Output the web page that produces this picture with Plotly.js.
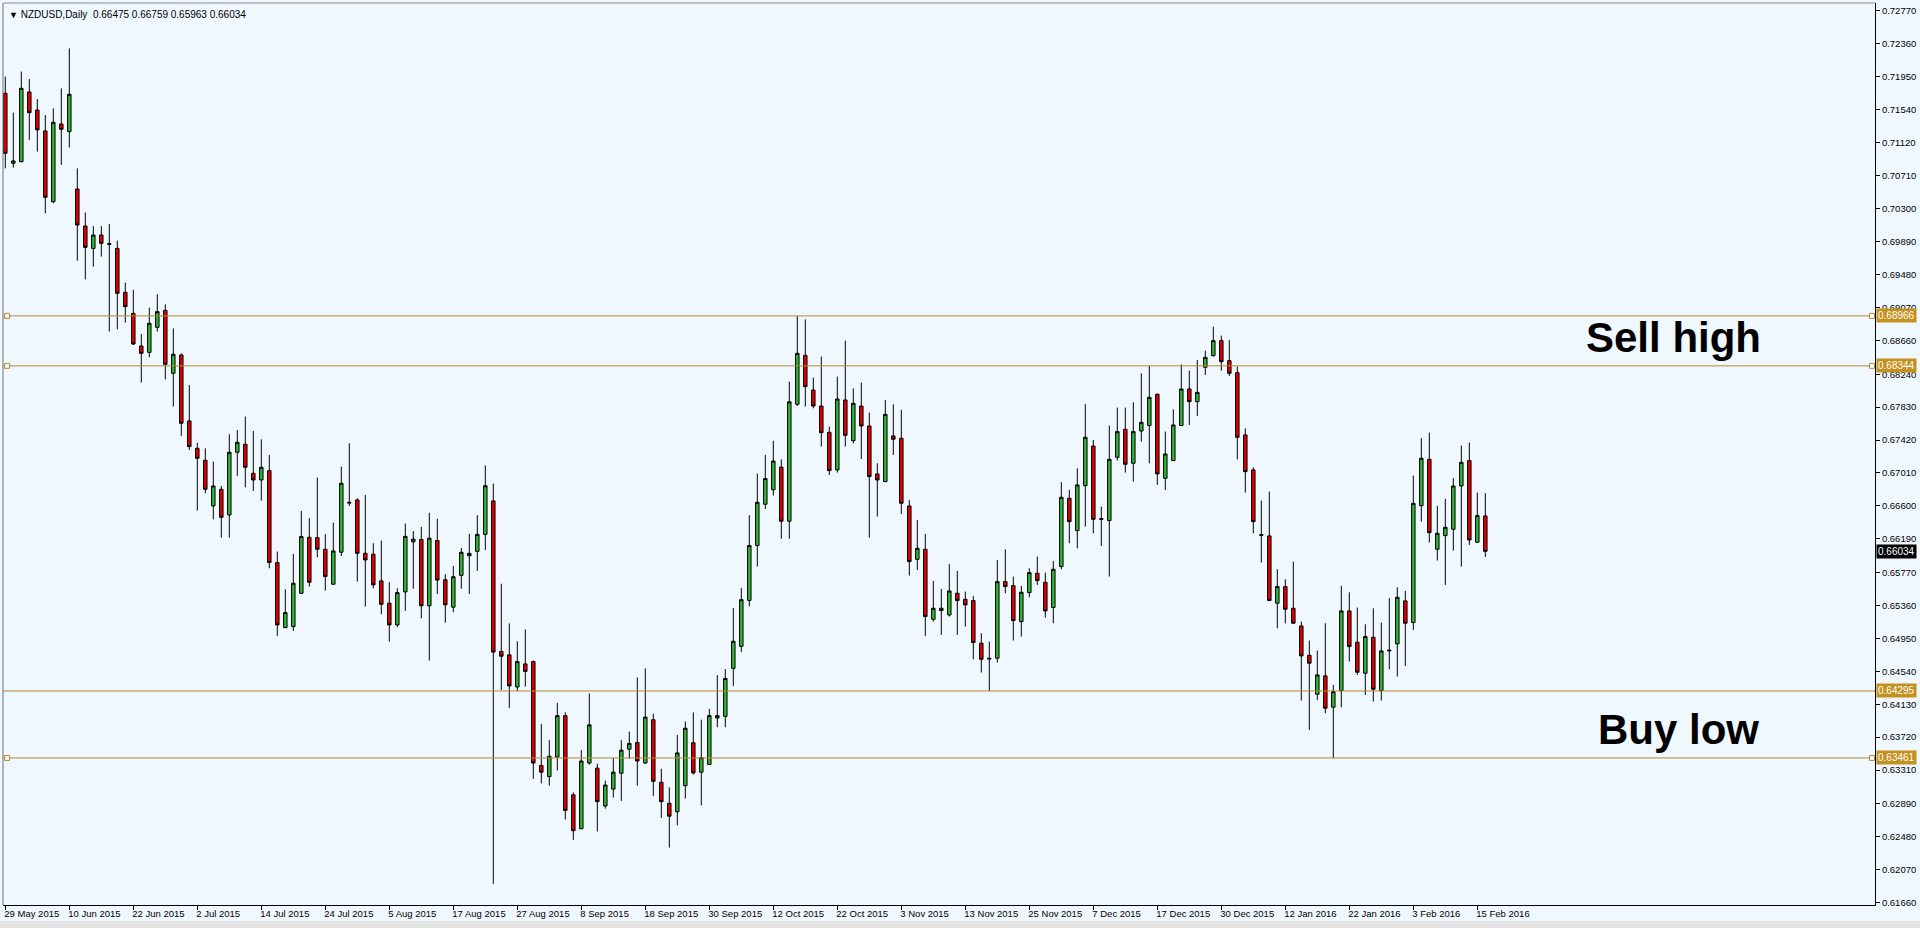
<!DOCTYPE html>
<html><head><meta charset="utf-8">
<script src="https://cdn.plot.ly/plotly-3.0.1.min.js"></script>
<style>html,body{margin:0;padding:0;background:#F0F8FF;overflow:hidden}#chart{width:1920px;height:928px}</style>
</head><body><div id="chart"></div>
<script>
const symbol = "NZDUSD,Daily";
const openP = [0.71738,0.70867,0.70887,0.71755,0.71530,0.71269,0.70388,0.71356,0.71261,0.70546,
0.70085,0.69807,0.69973,0.69865,0.69807,0.69259,0.68998,0.68591,0.68512,0.68824,
0.69035,0.68251,0.68479,0.67658,0.67317,0.67168,0.66599,0.66807,0.66487,0.67268,
0.67367,0.67006,0.66923,0.67039,0.65894,0.65084,0.65097,0.65512,0.66209,0.66205,
0.66060,0.65624,0.66023,0.66645,0.66674,0.66010,0.65998,0.65666,0.65388,0.65118,
0.65529,0.66152,0.66182,0.65356,0.66169,0.65680,0.65339,0.65735,0.65979,0.66034,
0.66245,0.66662,0.64787,0.64745,0.64345,0.64632,0.64661,0.63368,0.63229,0.63473,
0.63988,0.63002,0.62580,0.63398,0.63334,0.62863,0.63073,0.63271,0.63570,0.63654,
0.63398,0.63937,0.63158,0.62896,0.62791,0.63116,0.63650,0.63284,0.63381,0.63958,
0.63979,0.64577,0.64851,0.65423,0.66106,0.66620,0.66801,0.67083,0.66409,0.67865,
0.68475,0.68043,0.67844,0.67516,0.67048,0.67919,0.67413,0.67844,0.67595,0.66998,
0.66902,0.67471,0.67442,0.66599,0.65935,0.66060,0.65188,0.65325,0.65242,0.65512,
0.65437,0.65421,0.64890,0.64703,0.64703,0.65657,0.65607,0.65159,0.65520,0.65761,
0.65649,0.65334,0.65844,0.66695,0.66292,0.66852,0.67346,0.66441,0.66417,0.67205,
0.67554,0.67131,0.67533,0.67600,0.67990,0.66944,0.67164,0.67600,0.68056,0.67898,
0.68326,0.68471,0.68658,0.68409,0.68259,0.67483,0.67048,0.66242,0.66226,0.65388,
0.65595,0.65325,0.65105,0.64740,0.64255,0.64483,0.64093,0.64300,0.65292,0.64902,
0.64516,0.64964,0.64300,0.64794,0.64881,0.65417,0.65147,0.66603,0.67180,0.66060,
0.66230,0.66309,0.66848,0.67164,0.66147,0.66475];
const highP = [0.71945,0.71497,0.72008,0.71916,0.71667,0.71468,0.71551,0.71800,0.72298,0.70804,
0.70255,0.70085,0.70085,0.70110,0.69903,0.69380,0.69289,0.68741,0.69068,0.69235,
0.69110,0.68811,0.68500,0.68106,0.67388,0.67317,0.67151,0.66848,0.67491,0.67545,
0.67712,0.67533,0.67429,0.67234,0.66031,0.65562,0.66002,0.66537,0.66446,0.66952,
0.66247,0.66392,0.67089,0.67380,0.66695,0.66736,0.66135,0.66168,0.65649,0.65574,
0.66380,0.66287,0.66338,0.66514,0.66439,0.65748,0.65853,0.66076,0.66253,0.66485,
0.67104,0.66877,0.65630,0.65137,0.64914,0.65061,0.64674,0.63886,0.63684,0.64147,
0.64029,0.63031,0.63558,0.64265,0.63389,0.63178,0.63461,0.63684,0.63789,0.64463,
0.64577,0.64012,0.63326,0.63094,0.63747,0.63916,0.64029,0.63937,0.64072,0.64493,
0.64568,0.65327,0.65579,0.66485,0.67003,0.67235,0.67411,0.67180,0.68147,0.68965,
0.68923,0.68197,0.68459,0.67587,0.68210,0.68658,0.68064,0.68135,0.67761,0.67131,
0.67919,0.67865,0.67795,0.66674,0.66425,0.66251,0.65666,0.65566,0.65877,0.65790,
0.65533,0.65479,0.65014,0.64910,0.65927,0.66060,0.65719,0.65603,0.65823,0.65969,
0.65769,0.65915,0.66894,0.66799,0.67068,0.67869,0.67421,0.66591,0.67600,0.67824,
0.67824,0.67890,0.68251,0.68342,0.68000,0.67525,0.67803,0.68363,0.68284,0.68417,
0.68533,0.68832,0.68720,0.68666,0.68334,0.67566,0.67081,0.66666,0.66778,0.65811,
0.65686,0.65906,0.65159,0.64923,0.64798,0.65139,0.64371,0.65603,0.65524,0.65334,
0.65126,0.65325,0.65147,0.65450,0.65587,0.65541,0.66977,0.67442,0.67512,0.66599,
0.66687,0.66944,0.67351,0.67388,0.66765,0.66759];
const lowP = [0.70804,0.70813,0.70880,0.71157,0.71012,0.70244,0.70370,0.70846,0.71062,0.69653,
0.69421,0.69579,0.69704,0.68770,0.68799,0.68882,0.68604,0.68135,0.68450,0.68770,
0.68176,0.67836,0.67471,0.67297,0.66541,0.66757,0.66433,0.66205,0.66205,0.66973,
0.66832,0.66786,0.66666,0.65823,0.64981,0.65080,0.65043,0.65505,0.65595,0.65960,
0.65545,0.65620,0.65977,0.66599,0.65657,0.65346,0.65574,0.65251,0.64910,0.65090,
0.65293,0.65567,0.65200,0.64674,0.65503,0.65145,0.65276,0.65567,0.65503,0.65790,
0.66051,0.61894,0.64307,0.64084,0.64295,0.64349,0.63200,0.63145,0.63116,0.63305,
0.62694,0.62441,0.62575,0.63377,0.62546,0.62829,0.62968,0.62926,0.63452,0.63116,
0.63390,0.62989,0.62715,0.62344,0.62622,0.62955,0.63254,0.62871,0.63375,0.63844,
0.63844,0.64358,0.64779,0.65348,0.65845,0.66561,0.66729,0.66190,0.66190,0.67844,
0.67836,0.67815,0.67338,0.66985,0.67014,0.67338,0.67380,0.67184,0.66205,0.66467,
0.66900,0.67234,0.66500,0.65732,0.65803,0.64981,0.65159,0.64993,0.65222,0.64993,
0.65097,0.64690,0.64524,0.64296,0.64649,0.65512,0.64923,0.64972,0.65462,0.65616,
0.65209,0.65139,0.65811,0.66135,0.66072,0.66342,0.66259,0.66101,0.65720,0.67164,
0.67014,0.66902,0.67400,0.67131,0.66861,0.66799,0.67160,0.67595,0.67608,0.67720,
0.68230,0.68460,0.68284,0.68218,0.67180,0.66765,0.66259,0.65894,0.65415,0.65076,
0.65138,0.65135,0.64176,0.63811,0.64184,0.64018,0.63458,0.64093,0.64661,0.64495,
0.64246,0.64163,0.64176,0.64566,0.64475,0.64607,0.65056,0.66404,0.66143,0.65919,
0.65616,0.66043,0.65844,0.66114,0.66140,0.65963];
const closeP = [0.70991,0.70896,0.71800,0.71497,0.71282,0.70443,0.71377,0.71290,0.71726,0.70098,
0.69820,0.69973,0.69870,0.69858,0.69247,0.69081,0.68616,0.68500,0.68874,0.69019,
0.68363,0.68488,0.67629,0.67338,0.67193,0.66807,0.66848,0.66458,0.67268,0.67392,
0.67081,0.66923,0.67081,0.65894,0.65118,0.65271,0.65637,0.66218,0.65649,0.66060,
0.65720,0.66039,0.66882,0.66637,0.66010,0.65927,0.65616,0.65375,0.65118,0.65520,
0.66220,0.66186,0.65356,0.66198,0.65676,0.65369,0.65718,0.66022,0.66009,0.66245,
0.66851,0.64779,0.64728,0.64358,0.64661,0.64539,0.63398,0.63284,0.63482,0.63988,
0.62808,0.62555,0.63423,0.63873,0.62917,0.63124,0.63284,0.63558,0.63642,0.63423,
0.63970,0.63170,0.62917,0.62736,0.63524,0.63831,0.63275,0.63465,0.63988,0.63988,
0.64451,0.64914,0.65432,0.66106,0.66645,0.66940,0.67159,0.66409,0.67896,0.68500,
0.68085,0.67844,0.67512,0.67039,0.67931,0.67479,0.67877,0.67595,0.66965,0.66923,
0.67740,0.67429,0.66633,0.65906,0.66072,0.65222,0.65325,0.65296,0.65541,0.65421,
0.65367,0.64898,0.64690,0.64695,0.65657,0.65595,0.65172,0.65524,0.65769,0.65670,
0.65292,0.65811,0.66707,0.66404,0.66861,0.67454,0.66433,0.66433,0.67180,0.67525,
0.67118,0.67525,0.67641,0.67952,0.66998,0.67247,0.67608,0.68056,0.67898,0.68014,
0.68450,0.68658,0.68396,0.68251,0.67454,0.67027,0.66404,0.66234,0.65421,0.65595,
0.65313,0.65139,0.64732,0.64641,0.64495,0.64081,0.64288,0.65292,0.64848,0.64528,
0.64973,0.64317,0.64794,0.64802,0.65462,0.65139,0.66632,0.67193,0.66267,0.66259,
0.66334,0.66848,0.67143,0.66176,0.66479,0.66034];
const dateLabels = ["29 May 2015","10 Jun 2015","22 Jun 2015","2 Jul 2015","14 Jul 2015","24 Jul 2015",
"5 Aug 2015","17 Aug 2015","27 Aug 2015","8 Sep 2015","18 Sep 2015","30 Sep 2015","12 Oct 2015",
"22 Oct 2015","3 Nov 2015","13 Nov 2015","25 Nov 2015","7 Dec 2015","17 Dec 2015","30 Dec 2015",
"12 Jan 2016","22 Jan 2016","3 Feb 2016","15 Feb 2016"];
const dateLabelBars = [0,8,16,24,32,40,48,56,64,72,80,88,96,104,112,120,128,136,144,152,160,168,176,184];
const priceTicks = [0.72770,0.72360,0.71950,0.71540,0.71120,0.70710,0.70300,0.69890,0.69480,0.69070,
0.68660,0.68240,0.67830,0.67420,0.67010,0.66600,0.66190,0.65770,0.65360,0.64950,0.64540,0.64130,
0.63720,0.63310,0.62890,0.62480,0.62070,0.61660];
const levels = [0.68966,0.68344,0.64295,0.63461];
const levelHandles = [true,true,false,true];
const zoneLabels = ["Sell high","Buy low"];

const bars = openP.map((_, i) => i);
const last = openP.length - 1;
const GOLD = '#B8892E', TAG = '#C4901E';
const FONT = 'Liberation Sans, Arial, sans-serif';

const trace = {
  type: 'candlestick', x: bars, open: openP, high: highP, low: lowP, close: closeP,
  increasing: {line: {color: '#000', width: 1}, fillcolor: '#32B432'},
  decreasing: {line: {color: '#000', width: 1}, fillcolor: '#E00000'},
  whiskerwidth: 0, hoverinfo: 'skip', showlegend: false
};

const shapes = [];
const annotations = [];
// bottom window strip and top frame
shapes.push({type: 'rect', xref: 'paper', yref: 'paper', x0: -0.01, x1: 1.03, y0: -0.0177, y1: -0.03,
  line: {width: 0}, fillcolor: '#E4E4E4', layer: 'below'});
levels.forEach((v, k) => {
  shapes.push({type: 'line', xref: 'paper', x0: 0, x1: 1, yref: 'y', y0: v, y1: v,
    line: {color: GOLD, width: 1}, layer: 'above'});
  if (levelHandles[k]) {
    [0.0022, 0.9984].forEach(ax => shapes.push({type: 'rect', xref: 'paper', xsizemode: 'pixel', xanchor: ax,
      x0: -2.5, x1: 2.5, yref: 'y', ysizemode: 'pixel', yanchor: v, y0: -2.5, y1: 2.5,
      line: {color: GOLD, width: 1}, fillcolor: '#F0F8FF', layer: 'above'}));
  }
  annotations.push({xref: 'paper', x: 1, xanchor: 'left', xshift: 1, yref: 'y', y: v, yanchor: 'middle',
    text: v.toFixed(5), showarrow: false, bgcolor: TAG, borderpad: 1,
    font: {family: FONT, size: 10, color: '#fff'}});
});
annotations.push({xref: 'paper', x: 1, xanchor: 'left', xshift: 1, yref: 'y', y: closeP[last], yanchor: 'middle',
  text: closeP[last].toFixed(5), showarrow: false, bgcolor: '#000', borderpad: 1,
  font: {family: FONT, size: 10, color: '#fff'}});
annotations.push({xref: 'paper', yref: 'paper', x: 0, y: 1, xanchor: 'left', yanchor: 'top', xshift: 4, yshift: -4,
  showarrow: false, font: {family: FONT, size: 10, color: '#000'},
  text: '<span style="font-size:9px">\u25BC</span> ' + symbol + '  ' +
    [openP[last], highP[last], lowP[last], closeP[last]].map(v => v.toFixed(5)).join(' ')});
annotations.push({xref: 'paper', yref: 'y', x: 0.8925, y: 0.68703, xanchor: 'center', yanchor: 'middle',
  text: '<b>' + zoneLabels[0] + '</b>', showarrow: false,
  font: {family: FONT, size: 42, color: '#000'}});
annotations.push({xref: 'paper', yref: 'y', x: 0.8949, y: 0.63815, xanchor: 'center', yanchor: 'middle',
  text: '<b>' + zoneLabels[1] + '</b>', showarrow: false,
  font: {family: FONT, size: 42, color: '#000'}});
// window frame edges
shapes.push({type: 'line', xref: 'paper', yref: 'paper', x0: 0, x1: 0, y0: 0, y1: 1, line: {color: '#707070', width: 1}});
shapes.push({type: 'line', xref: 'paper', yref: 'paper', x0: 0, x1: 1, y0: 1, y1: 1, line: {color: '#909090', width: 1}});

const layout = {
  width: 1920, height: 928,
  margin: {l: 3, r: 45, t: 3, b: 23, pad: 0},
  paper_bgcolor: '#F0F8FF', plot_bgcolor: '#F0F8FF',
  boxgap: 0.38,
  font: {family: FONT, size: 10, color: '#000'},
  xaxis: {
    range: [-0.2875, 233.71], rangeslider: {visible: false}, fixedrange: true,
    tickmode: 'array', tickvals: dateLabelBars, ticktext: dateLabels,
    ticks: 'outside', ticklen: 4, tickcolor: '#000', tickwidth: 1,
    ticklabelposition: 'outside right', ticklabelshift: -2, tickfont: {size: 9.5, color: '#000'},
    showline: true, linecolor: '#000', linewidth: 1, showgrid: false, zeroline: false
  },
  yaxis: {
    side: 'right', range: [0.616298, 0.728626], fixedrange: true,
    tickmode: 'array', tickvals: priceTicks, ticktext: priceTicks.map(v => v.toFixed(5)),
    ticks: 'outside', ticklen: 4, tickcolor: '#000', tickwidth: 1,
    tickfont: {size: 9.5, color: '#000'},
    showline: true, linecolor: '#000', linewidth: 1, showgrid: false, zeroline: false
  },
  shapes: shapes, annotations: annotations
};
Plotly.newPlot('chart', [trace], layout, {displayModeBar: false, staticPlot: true});
</script></body></html>
